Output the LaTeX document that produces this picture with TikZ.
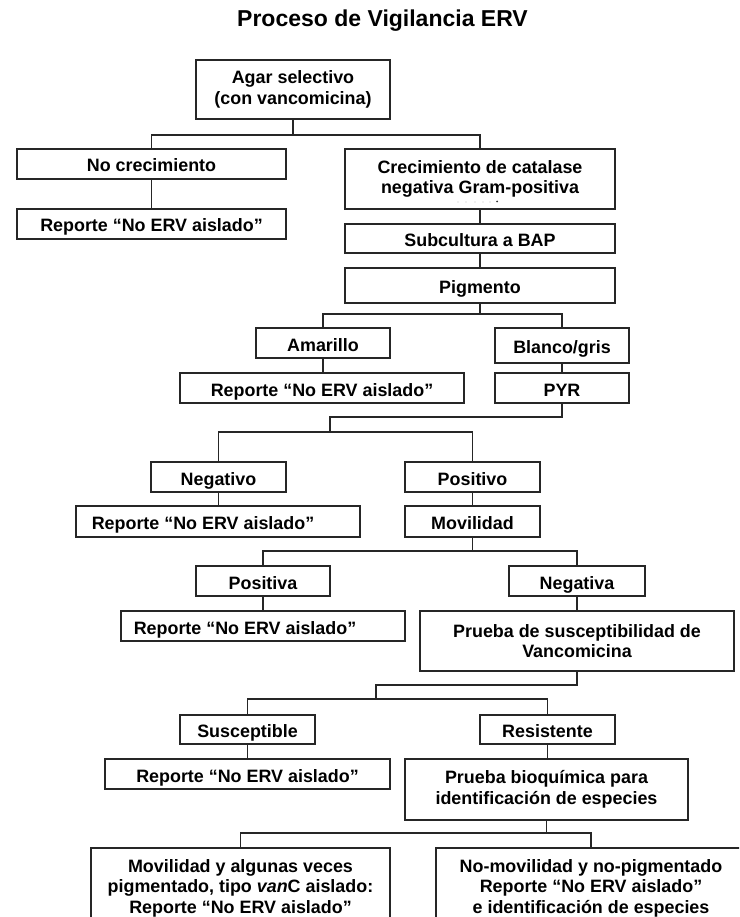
\documentclass[tikz,border=0pt]{standalone}
\usepackage{fontspec}
\setmainfont{Liberation Sans}
\begin{document}
\begin{tikzpicture}[x=1pt,y=-1pt,
  boxfont/.style={font=\fontsize{17.9}{20.6}\selectfont\bfseries},
  oneline/.style={text height=16pt, text depth=0pt},
  flowbox/.style={draw=black!85, line width=1.4pt, rectangle, boxfont, align=center, inner sep=0pt, text=black},
  conn/.style={draw=black!85, line width=1.4pt}]
\useasboundingbox (0,0) rectangle (739,917);
\clip (0,0) rectangle (739,917);

\node[font=\fontsize{23}{27}\selectfont\bfseries, anchor=base] (title) at (382.5,27) {Proceso de Vigilancia ERV};

% boxes
\node[flowbox, minimum width=194, minimum height=59] (agar) at (293,89.5) {Agar selectivo\\(con vancomicina)};
\node[flowbox, oneline, minimum width=269, minimum height=30] (nocrec) at (151.5,164) {No crecimiento};
\node[flowbox, oneline, minimum width=269, minimum height=30] (rep1) at (151.5,224) {Reporte “No ERV aislado”};
\node[flowbox, minimum width=270, minimum height=60] (crec) at (480,179) {Crecimiento de catalase\\negativa Gram-positiva};
\node[flowbox, oneline, minimum width=270, minimum height=29] (subc) at (480,238.5) {Subcultura a BAP};
\node[flowbox, oneline, minimum width=270, minimum height=35] (pigm) at (480,285.5) {Pigmento};
\node[flowbox, oneline, minimum width=134, minimum height=30] (amar) at (323,343) {Amarillo};
\node[flowbox, oneline, minimum width=134, minimum height=35] (blanco) at (562,345.5) {Blanco/gris};
\node[flowbox, oneline, minimum width=284, minimum height=30] (rep2) at (322,388) {Reporte “No ERV aislado”};
\node[flowbox, oneline, minimum width=134, minimum height=30] (pyr) at (562,388) {PYR};
\node[flowbox, oneline, minimum width=135, minimum height=30] (neg) at (218.5,477) {Negativo};
\node[flowbox, oneline, minimum width=135, minimum height=30] (pos) at (472.5,477) {Positivo};
\node[flowbox, minimum width=284, minimum height=31,
  label={[boxfont, oneline, xshift=-15pt]center:Reporte “No ERV aislado”}] (rep3) at (218,521.5) {};
\node[flowbox, oneline, minimum width=135, minimum height=31] (movil) at (472.5,521.5) {Movilidad};
\node[flowbox, oneline, minimum width=134, minimum height=30] (positiva) at (263,581) {Positiva};
\node[flowbox, oneline, minimum width=136, minimum height=30] (negativa) at (577,581) {Negativa};
\node[flowbox, minimum width=284, minimum height=30,
  label={[boxfont, oneline, xshift=-18pt]center:Reporte “No ERV aislado”}] (rep4) at (263,626) {};
\node[flowbox, minimum width=314, minimum height=60] (suscep) at (577,641) {Prueba de susceptibilidad de\\Vancomicina};
\node[flowbox, oneline, minimum width=135, minimum height=29] (suscept) at (247.5,729.5) {Susceptible};
\node[flowbox, oneline, minimum width=135, minimum height=29] (resist) at (547.5,729.5) {Resistente};
\node[flowbox, oneline, minimum width=285, minimum height=30] (rep5) at (247.5,774) {Reporte “No ERV aislado”};
\node[flowbox, minimum width=283, minimum height=61] (bioq) at (546.5,789.5) {Prueba bioquímica para\\identificación de especies};
\node[flowbox, minimum width=299, minimum height=80] (boxL) at (240.5,888) {Movilidad y algunas veces\\pigmentado, tipo \textit{van}C aislado:\\Reporte “No ERV aislado”};
\node[flowbox, minimum width=310, minimum height=80] (boxR) at (591,888) {No-movilidad y no-pigmentado\\Reporte “No ERV aislado”\\e identificación de especies};

% faint dots in Crecimiento box
\foreach \dx in {458,466,475,483,490} \fill[black!25] (\dx,202) circle (0.7);
\fill[black!80] (497,201.5) circle (1);

% junction coordinates
\coordinate (j1) at (293,135);
\coordinate (j2) at (480,314);
\coordinate (k1) at (330,417);
\coordinate (k2) at (330,432);
\coordinate (m1) at (472.5,551);
\coordinate (s1) at (376,685);
\coordinate (s2) at (376,699);
\coordinate (b1) at (546.5,833);

% connectors
\draw[conn] (agar) -- (j1);
\draw[conn] (j1) -| (nocrec);
\draw[conn] (j1) -| (crec);
\draw[conn] (nocrec) -- (rep1);
\draw[conn] (crec) -- (subc);
\draw[conn] (subc) -- (pigm);
\draw[conn] (pigm) -- (j2);
\draw[conn] (j2) -| (amar);
\draw[conn] (j2) -| (blanco);
\draw[conn] (amar.south) -- (amar.south |- rep2.north);
\draw[conn] (blanco) -- (pyr);
\draw[conn] (pyr) |- (k1) -- (k2);
\draw[conn] (k2) -| (neg);
\draw[conn] (k2) -| (pos);
\draw[conn] (neg.south) -- (neg.south |- rep3.north);
\draw[conn] (pos) -- (movil);
\draw[conn] (movil) -- (m1);
\draw[conn] (m1) -| (positiva);
\draw[conn] (m1) -| (negativa);
\draw[conn] (positiva) -- (rep4);
\draw[conn] (negativa) -- (suscep);
\draw[conn] (suscep) |- (s1) -- (s2);
\draw[conn] (s2) -| (suscept);
\draw[conn] (s2) -| (resist);
\draw[conn] (suscept) -- (rep5);
\draw[conn] (resist.south) -- (resist.south |- bioq.north);
\draw[conn] (bioq) -- (b1);
\draw[conn] (b1) -| (boxL);
\draw[conn] (b1) -| (boxR);
\end{tikzpicture}
\end{document}
